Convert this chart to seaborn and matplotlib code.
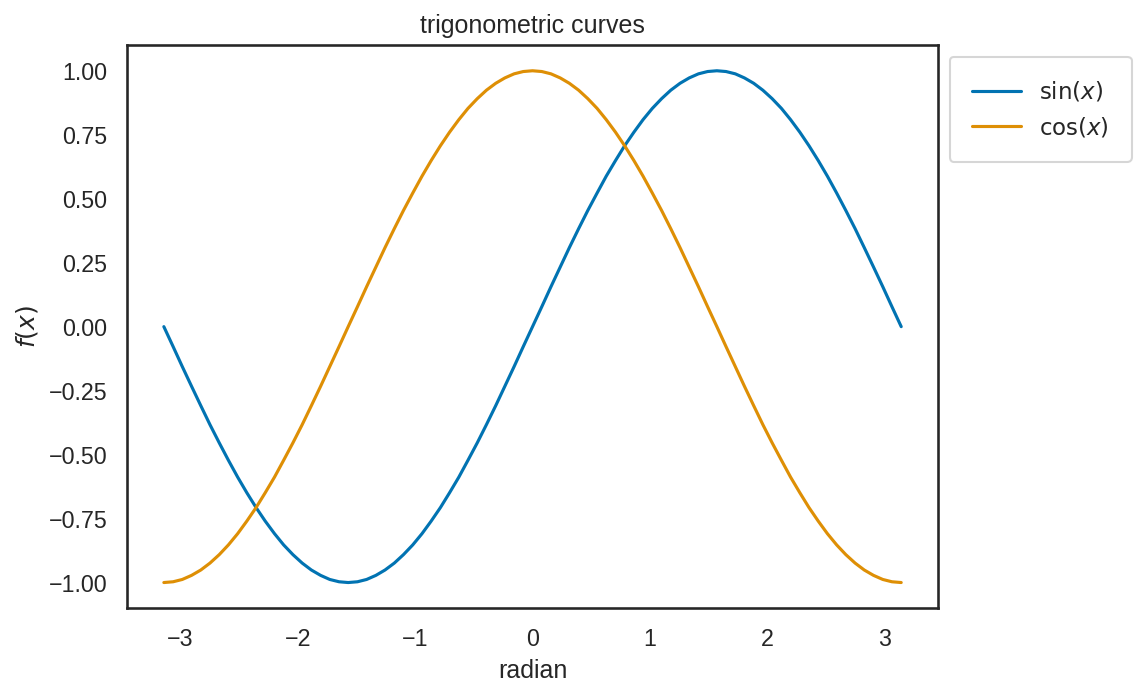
import pandas as pd
import seaborn as sns
import matplotlib.pyplot as plt

# sample points, x in radians (step pi/40)
radian = [-3.142, -3.063, -2.985, -2.906, -2.827, -2.749, -2.670, -2.592, -2.513, -2.435,
          -2.356, -2.278, -2.199, -2.121, -2.042, -1.963, -1.885, -1.806, -1.728, -1.649,
          -1.571, -1.492, -1.414, -1.335, -1.257, -1.178, -1.100, -1.021, -0.942, -0.864,
          -0.785, -0.707, -0.628, -0.550, -0.471, -0.393, -0.314, -0.236, -0.157, -0.079,
          0.000, 0.079, 0.157, 0.236, 0.314, 0.393, 0.471, 0.550, 0.628, 0.707,
          0.785, 0.864, 0.942, 1.021, 1.100, 1.178, 1.257, 1.335, 1.414, 1.492,
          1.571, 1.649, 1.728, 1.806, 1.885, 1.963, 2.042, 2.121, 2.199, 2.278,
          2.356, 2.435, 2.513, 2.592, 2.670, 2.749, 2.827, 2.906, 2.985, 3.063, 3.142]

sin_vals = [0.000, -0.078, -0.156, -0.233, -0.309, -0.383, -0.454, -0.522, -0.588, -0.649,
            -0.707, -0.760, -0.809, -0.853, -0.891, -0.924, -0.951, -0.972, -0.988, -0.997,
            -1.000, -0.997, -0.988, -0.972, -0.951, -0.924, -0.891, -0.853, -0.809, -0.760,
            -0.707, -0.649, -0.588, -0.522, -0.454, -0.383, -0.309, -0.233, -0.156, -0.078,
            0.000, 0.078, 0.156, 0.233, 0.309, 0.383, 0.454, 0.522, 0.588, 0.649,
            0.707, 0.760, 0.809, 0.853, 0.891, 0.924, 0.951, 0.972, 0.988, 0.997,
            1.000, 0.997, 0.988, 0.972, 0.951, 0.924, 0.891, 0.853, 0.809, 0.760,
            0.707, 0.649, 0.588, 0.522, 0.454, 0.383, 0.309, 0.233, 0.156, 0.078, 0.000]

cos_vals = [-1.000, -0.997, -0.988, -0.972, -0.951, -0.924, -0.891, -0.853, -0.809, -0.760,
            -0.707, -0.649, -0.588, -0.522, -0.454, -0.383, -0.309, -0.233, -0.156, -0.078,
            0.000, 0.078, 0.156, 0.233, 0.309, 0.383, 0.454, 0.522, 0.588, 0.649,
            0.707, 0.760, 0.809, 0.853, 0.891, 0.924, 0.951, 0.972, 0.988, 0.997,
            1.000, 0.997, 0.988, 0.972, 0.951, 0.924, 0.891, 0.853, 0.809, 0.760,
            0.707, 0.649, 0.588, 0.522, 0.454, 0.383, 0.309, 0.233, 0.156, 0.078,
            0.000, -0.078, -0.156, -0.233, -0.309, -0.383, -0.454, -0.522, -0.588, -0.649,
            -0.707, -0.760, -0.809, -0.853, -0.891, -0.924, -0.951, -0.972, -0.988, -0.997, -1.000]

sns.set_theme(style='white', palette='colorblind')
plt.rcParams['font.family'] = ['Liberation Sans', 'DejaVu Sans']
plt.rcParams['axes.edgecolor'] = '.15'

df = pd.DataFrame({'radian': radian, 'sin': sin_vals, 'cos': cos_vals})

fig = plt.figure(figsize=(1144/150, 695/150), dpi=150)
ax = fig.add_axes([0.111, 0.125, 0.709, 0.810])
sns.lineplot(ax=ax, x='radian', y='sin', data=df, label=r'$\sin(x)$')
sns.lineplot(ax=ax, x='radian', y='cos', data=df, label=r'$\cos(x)$')
ax.set_ylim(-1.1, 1.1)
ax.set_xlabel('radian', fontsize=12)
ax.set_ylabel(r'$f(x)$', fontsize=12)
ax.set_title('trigonometric curves', fontsize=12)
ax.tick_params(labelsize=11.2)
ax.legend(loc='upper left', bbox_to_anchor=(1.0, 1.0), fontsize=11,
          borderpad=1.0, handlelength=2.1)
fig.savefig('out.png', dpi=150)
